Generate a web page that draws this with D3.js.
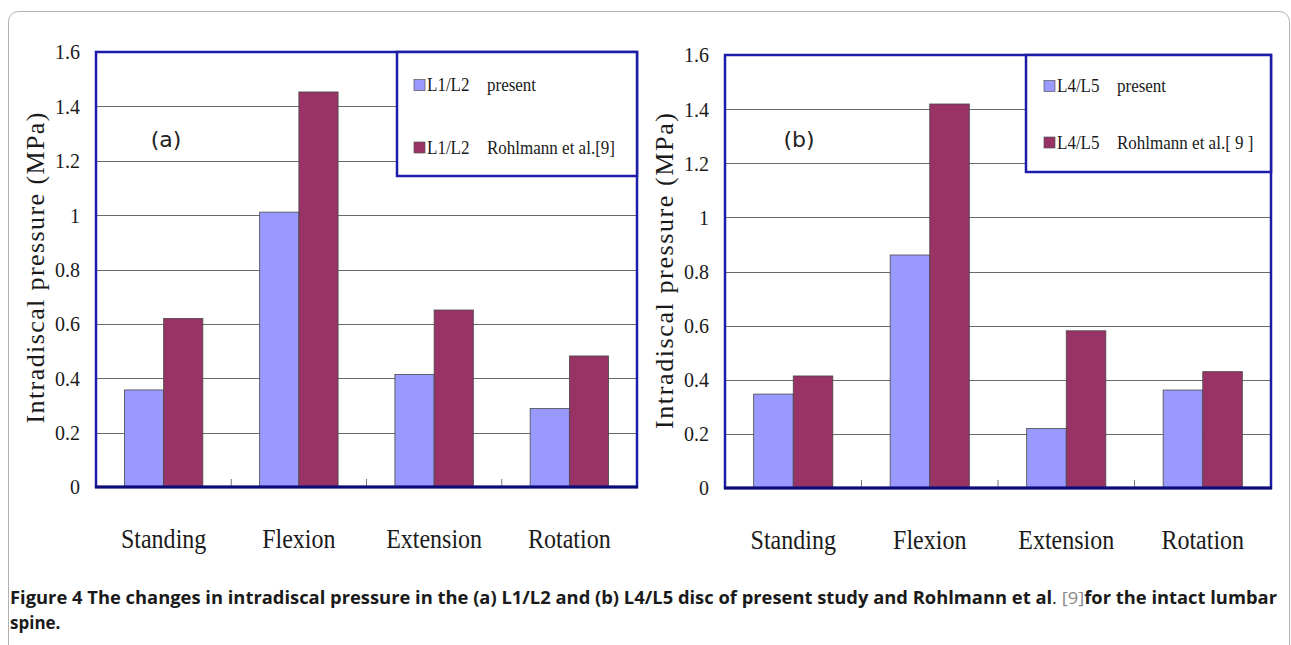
<!DOCTYPE html>
<html lang="en">
<head>
<meta charset="utf-8">
<title>Intradiscal pressure</title>
<script src="https://d3js.org/d3.v7.min.js"></script>
<style>
  body { margin: 0; background: #fff; }
  .serif { font-family: "Liberation Serif", "DejaVu Serif", serif; fill: #1a1a1a; }
</style>
</head>
<body>
<svg></svg>
<script>
// Data
var categories = ["Standing", "Flexion", "Extension", "Rotation"];
var yTicks = [0, 0.2, 0.4, 0.6, 0.8, 1, 1.2, 1.4, 1.6];
var yTickLabels = ["0", "0.2", "0.4", "0.6", "0.8", "1", "1.2", "1.4", "1.6"];
var seriesNamesA = ["present", "Rohlmann et al.[9]"];
var seriesNamesB = ["present", "Rohlmann et al.[ 9 ]"];
var seriesColors = ["#9999ff", "#993366"];

var l1l2Present = [0.357, 1.011, 0.414, 0.289];
var l1l2Rohlmann = [0.62, 1.453, 0.651, 0.482];
var l4l5Present = [0.347, 0.861, 0.22, 0.362];
var l4l5Rohlmann = [0.414, 1.419, 0.581, 0.43];

var width = 1291;
var height = 645;

var svg = d3.select("svg")
  .attr("width", width)
  .attr("height", height);

// rounded card around the figure
svg.append("rect")
  .attr("x", 8.5).attr("y", 11.5)
  .attr("width", 1281).attr("height", 700)
  .attr("rx", 10)
  .attr("fill", "#fff")
  .attr("stroke", "#b0b0b0");

var frameColor = "#1c1ca8";

// the original uses a tall, narrow serif: grow the font but keep the width
function condense(sel, factor) {
  sel.each(function() {
    var t = d3.select(this);
    var w = this.getComputedTextLength();
    var fs = parseFloat(t.attr("font-size"));
    t.attr("font-size", fs * factor)
      .attr("textLength", w)
      .attr("lengthAdjust", "spacingAndGlyphs");
  });
}

function drawPanel(p) {
  var g = svg.append("g");

  var x0 = d3.scaleBand()
    .domain(categories)
    .range([p.left, p.right])
    .paddingInner(0.42)
    .paddingOuter(0.21);

  var x1 = d3.scaleBand()
    .domain([0, 1])
    .range([0, x0.bandwidth()]);

  var y = d3.scaleLinear()
    .domain([0, 1.6])
    .range([p.bottom, p.top]);

  // gridlines
  g.selectAll("line.grid")
    .data(yTicks.slice(1, -1))
    .enter().append("line")
    .attr("class", "grid")
    .attr("x1", p.left).attr("x2", p.right)
    .attr("y1", function(d) { return Math.round(y(d)) + 0.5; })
    .attr("y2", function(d) { return Math.round(y(d)) + 0.5; })
    .attr("stroke", "#6a6a6a")
    .attr("stroke-width", 1);

  // bars
  var rows = categories.map(function(c, i) {
    return { cat: c, vals: [p.present[i], p.rohlmann[i]] };
  });
  g.selectAll("g.cat")
    .data(rows)
    .enter().append("g")
    .attr("transform", function(d) { return "translate(" + x0(d.cat) + ",0)"; })
    .selectAll("rect")
    .data(function(d) { return d.vals; })
    .enter().append("rect")
    .attr("x", function(d, i) { return x1(i); })
    .attr("width", x1.bandwidth())
    .attr("y", function(d) { return y(d); })
    .attr("height", function(d) { return y(0) - y(d); })
    .attr("fill", function(d, i) { return seriesColors[i]; })
    .attr("stroke", "#4a4a4a")
    .attr("stroke-width", 0.8);

  // small category separators on the x axis
  g.selectAll("line.sep")
    .data(categories.slice(1))
    .enter().append("line")
    .attr("x1", function(d) { return x0(d) - x0.step() * x0.paddingInner() / 2; })
    .attr("x2", function(d) { return x0(d) - x0.step() * x0.paddingInner() / 2; })
    .attr("y1", p.bottom).attr("y2", p.bottom - 8)
    .attr("stroke", "#777");

  // frame
  g.append("rect")
    .attr("x", p.left).attr("y", p.top)
    .attr("width", p.right - p.left).attr("height", p.bottom - p.top)
    .attr("fill", "none")
    .attr("stroke", frameColor)
    .attr("stroke-width", 2.5);
  g.append("line")
    .attr("x1", p.left - 1).attr("x2", p.right + 1)
    .attr("y1", p.bottom).attr("y2", p.bottom)
    .attr("stroke", "#0c0c78")
    .attr("stroke-width", 3);

  // y tick labels
  var yAxis = g.append("g")
    .attr("class", "serif")
    .attr("transform", "translate(" + p.left + ",0)")
    .call(d3.axisLeft(y)
      .tickValues(yTicks)
      .tickFormat(function(d, i) { return yTickLabels[i]; })
      .tickSize(0)
      .tickPadding(16));
  yAxis.select(".domain").remove();
  yAxis.selectAll("text")
    .attr("font-family", "Liberation Serif, serif")
    .attr("font-size", 20)
    .attr("fill", "#1a1a1a")
    .call(condense, 1.08);

  // x category labels
  g.selectAll("text.cat")
    .data(categories)
    .enter().append("text")
    .attr("class", "serif")
    .attr("x", function(d) { return x0(d) + x0.bandwidth() / 2; })
    .attr("y", p.bottom + 61)
    .attr("text-anchor", "middle")
    .attr("font-size", 24)
    .text(function(d) { return d; })
    .call(condense, 1.14);

  // y axis title
  g.append("text")
    .attr("class", "serif")
    .attr("transform", "translate(" + p.titleX + "," + p.titleY + ") rotate(-90)")
    .attr("text-anchor", "middle")
    .attr("dy", "0.35em")
    .attr("font-size", 26)
    .attr("textLength", p.titleLen)
    .attr("lengthAdjust", "spacing")
    .text("Intradiscal pressure (MPa)");

  // panel letter
  g.append("text")
    .attr("x", p.letterX).attr("y", 139)
    .attr("text-anchor", "middle")
    .attr("dy", "0.35em")
    .attr("font-family", "DejaVu Sans, sans-serif")
    .attr("font-size", 22)
    .attr("fill", "#222")
    .text(p.letter);

  // legend
  var lg = g.append("g");
  lg.append("rect")
    .attr("x", p.legX).attr("y", p.top)
    .attr("width", p.right - p.legX).attr("height", p.legBottom - p.top)
    .attr("fill", "#fff")
    .attr("stroke", frameColor)
    .attr("stroke-width", 2.5);
  var items = lg.selectAll("g.item")
    .data(p.names)
    .enter().append("g")
    .attr("transform", function(d, i) { return "translate(0," + p.legRows[i] + ")"; });
  items.append("rect")
    .attr("x", p.legX + p.swatchOff).attr("y", -5.5)
    .attr("width", 11).attr("height", 11)
    .attr("fill", function(d, i) { return seriesColors[i]; })
    .attr("stroke", "#555")
    .attr("stroke-width", 0.7);
  items.append("text")
    .attr("class", "serif")
    .attr("x", p.legX + p.swatchOff + 13)
    .attr("y", 6)
    .attr("font-size", 17)
    .text(p.level)
    .call(condense, 1.1);
  items.append("text")
    .attr("class", "serif")
    .attr("x", p.legX + p.labelOff)
    .attr("y", 6)
    .attr("font-size", 17)
    .text(function(d) { return d; })
    .call(condense, 1.1);
}

drawPanel({
  left: 96, right: 637, top: 52, bottom: 487,
  present: l1l2Present, rohlmann: l1l2Rohlmann, names: seriesNamesA,
  titleX: 35, titleY: 268, titleLen: 311,
  letter: "(a)", letterX: 166,
  legX: 397, legBottom: 176, legRows: [85, 147.5],
  swatchOff: 17, labelOff: 90, level: "L1/L2"
});

drawPanel({
  left: 725, right: 1271, top: 55, bottom: 488,
  present: l4l5Present, rohlmann: l4l5Rohlmann, names: seriesNamesB,
  titleX: 664, titleY: 271, titleLen: 316,
  letter: "(b)", letterX: 799,
  legX: 1026, legBottom: 172, legRows: [86, 142.5],
  swatchOff: 18, labelOff: 91, level: "L4/L5"
});

// caption
var cap = svg.append("text")
  .attr("x", 10).attr("y", 604)
  .attr("font-family", "Open Sans, sans-serif")
  .attr("font-size", 17)
  .attr("font-weight", "bold")
  .attr("fill", "#1a1a1a")
  .attr("textLength", 1267)
  .attr("lengthAdjust", "spacingAndGlyphs");
cap.append("tspan").text("Figure 4 The changes in intradiscal pressure in the (a) L1/L2 and (b) L4/L5 disc of present study and Rohlmann et al");
cap.append("tspan").attr("font-weight", "normal").text(".");
cap.append("tspan").attr("font-weight", "normal").attr("fill", "#8a8a8a").text(" [9]");
cap.append("tspan").text("for the intact lumbar");

svg.append("text")
  .attr("x", 10).attr("y", 629)
  .attr("font-family", "Open Sans, sans-serif")
  .attr("font-size", 17)
  .attr("font-weight", "bold")
  .attr("fill", "#1a1a1a")
  .text("spine.");
</script>
</body>
</html>
